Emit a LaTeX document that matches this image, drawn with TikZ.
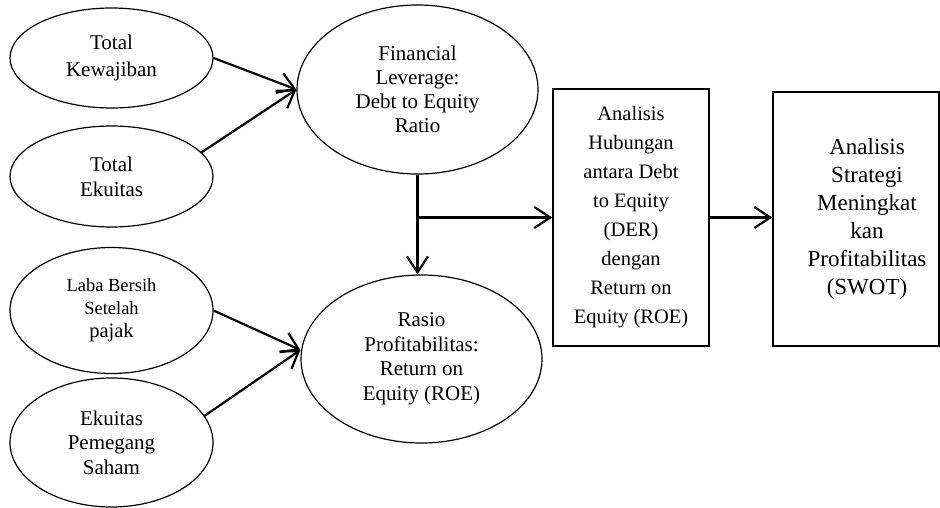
\documentclass[tikz,border=0pt]{standalone}
\usepackage{fontspec}
\setmainfont{Liberation Serif}
\usetikzlibrary{arrows.meta}
\usetikzlibrary{shapes.geometric}

\begin{document}
\begin{tikzpicture}[x = 1pt, y = 1pt, >={Straight Barb[length=16pt, width=21pt]}, line width = 1.2pt,
						var node/.style = {ellipse, draw, minimum width = 203pt, inner sep = 0pt, align = center, line width = 1.2pt},
						big node/.style = {ellipse, draw, minimum width = 241pt, minimum height = 169pt, inner sep = 0pt, align = center, line width = 1.2pt},
						box node/.style = {rectangle, draw, inner sep = 0pt, align = center, line width = 1.4pt},
						link/.style = {line width = 2.2pt}]
		\useasboundingbox (0,0) rectangle (940,-508);

		\node[var node, minimum height = 100pt, font = \fontsize{21pt}{27pt}\selectfont] (kew) at (111.5,-58) {Total\\Kewajiban};
		\node[var node, minimum height = 101pt, font = \fontsize{21pt}{25pt}\selectfont] (eku) [below of = kew, node distance = 118.5pt] {Total\\Ekuitas};
		\node[var node, minimum height = 126pt, font = \fontsize{18.5pt}{23pt}\selectfont] (laba) at (111.5,-310.5) {Laba Bersih\\Setelah\\{\fontsize{20.5pt}{23pt}\selectfont pajak}};
		\node[var node, minimum height = 129pt, font = \fontsize{21pt}{24.5pt}\selectfont] (pem) [below of = laba, node distance = 132pt] {Ekuitas\\Pemegang\\Saham};

		\node[big node, font = \fontsize{21pt}{24pt}\selectfont] (fin) at (417.5,-89.5) {Financial\\Leverage:\\Debt to Equity\\Ratio};
		\node[big node, minimum height = 168pt, font = \fontsize{21pt}{24.5pt}\selectfont] (rasio) at (421.5,-359) {Rasio\\Profitabilitas:\\Return on\\Equity (ROE)};

		\node[box node, minimum width = 156pt, minimum height = 257pt, font = \fontsize{20.5pt}{29pt}\selectfont] (hub) at (631,-217.5) {Analisis\\Hubungan\\antara Debt\\to Equity\\(DER)\\dengan\\Return on\\Equity (ROE)};
		% text sits a bit right of the box centre
		\node[box node, minimum width = 166pt, minimum height = 254pt, font = \fontsize{23pt}{28pt}\selectfont] (swot) at (856,-219) {\hspace*{22pt}\begin{tabular}{@{}c@{}}Analisis\\Strategi\\Meningkat\\kan\\Profitabilitas\\(SWOT)\end{tabular}};

		\coordinate (split) at (fin |- hub.west);

		\path[->, link]
		(kew.east) edge (fin.west)
		(eku.15) edge (fin.west)
		(laba.east) edge ([yshift=9pt]rasio.west)
		(pem.16) edge ([yshift=9pt]rasio.west)
		(fin) edge (fin |- rasio.north)
		(split) edge (hub.west)
		(hub.east) edge (hub.east -| swot.west);

	\end{tikzpicture}
\end{document}
